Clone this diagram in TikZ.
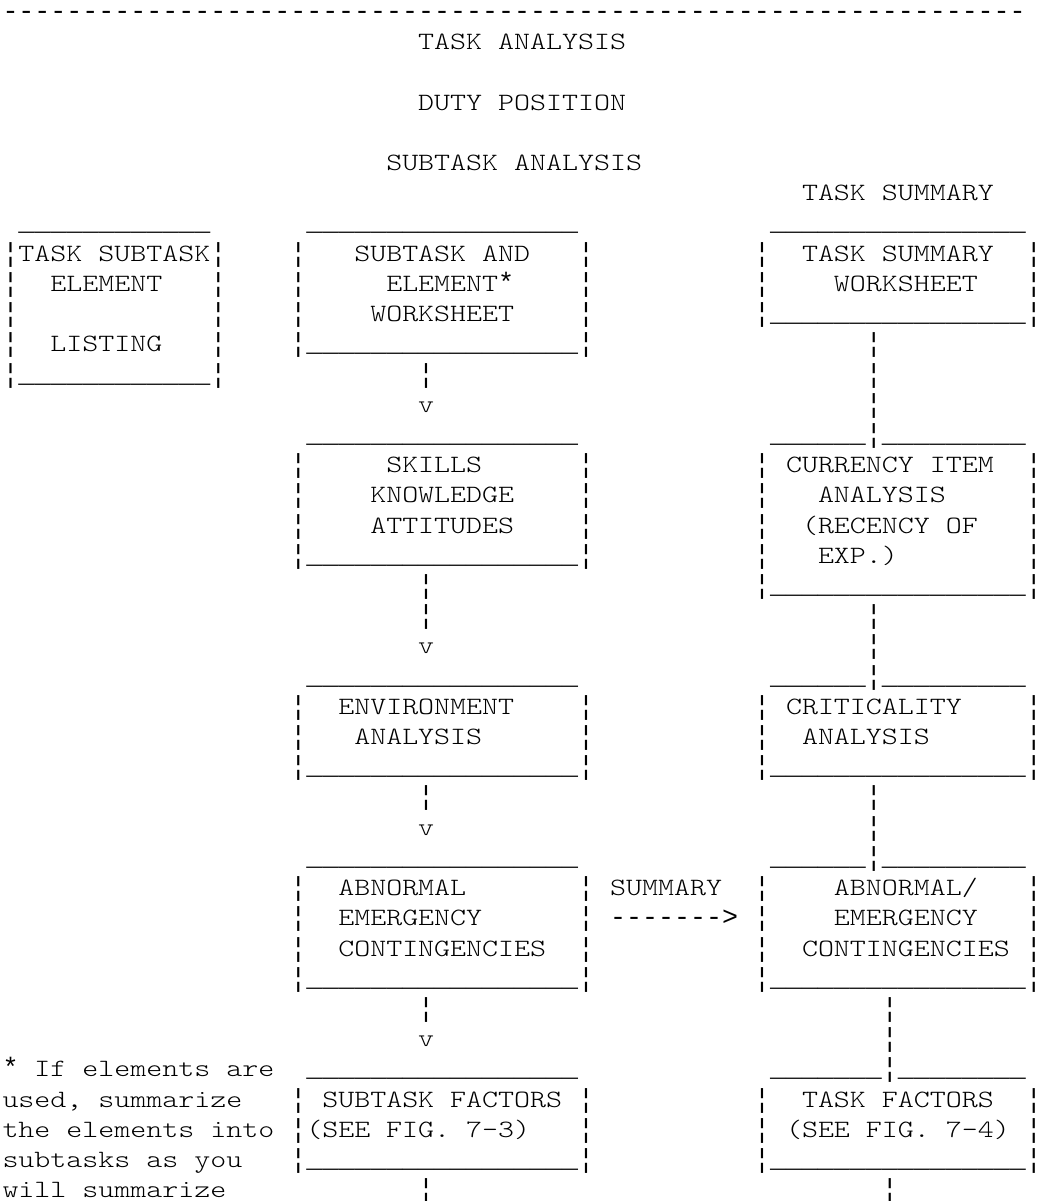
\documentclass[tikz,border=0pt]{standalone}
\usepackage{fontspec}
\setmonofont{Liberation Mono}
\newfontfamily\cour{lmmonolt10-regular.otf}[FakeStretch=1.2232]
\ExplSyntaxOn
\NewDocumentCommand\rep{mm}{\prg_replicate:nn{#1}{#2}}
\ExplSyntaxOff
\newcommand\linefont{\ttfamily\frenchspacing\fontsize{26.646pt}{30.21pt}\selectfont}
\newcommand\astr{{\linefont*}}
\tikzset{
  txt/.style={anchor=base west, inner sep=0pt, outer sep=0pt,
    font=\cour\frenchspacing\fontsize{24.9pt}{30.21pt}\selectfont},
  rulech/.style={txt, font=\linefont}}
% place text at character column #1, text row #2
\newcommand\tx[4]{\node[txt] (#3) at ({2.5pt+15.99pt*(#1)},{-19.5pt-30.21pt*(#2)}) {#4};}
% place a line-drawing character (bar, underscore, dash)
\newcommand\lc[4]{\node[rulech] (#3) at ({2.5pt+15.99pt*(#1)},{-19.5pt-30.21pt*(#2)}) {#4};}
% ascii box: name, left col, right col, top row, bottom row (top line drawn separately)
\newcommand\abox[5]{%
  \pgfmathtruncatemacro\boxw{#3-#2-1}%
  \pgfmathtruncatemacro\boxa{#4+1}%
  \foreach \r in {\boxa,...,#5}{\lc{#2}{\r}{#1-l\r}{¦}\lc{#3}{\r}{#1-r\r}{¦}}%
  \lc{#2+1}{#5}{#1-bot}{\rep{\boxw}{\_}}%
}
\begin{document}
\begin{tikzpicture}
\useasboundingbox (0,0) rectangle (1042pt,-1201pt);
% headings
\lc{0}{0}{rule}{\rep{64}{-}}
\tx{26}{1}{title}{TASK ANALYSIS}
\tx{26}{3}{duty}{DUTY POSITION}
\tx{24}{5}{subana}{SUBTASK ANALYSIS}
\tx{50}{6}{tasksum}{TASK SUMMARY}
% box tops
\lc{1}{7}{A-top}{\rep{12}{\_}}
\lc{19}{7}{B-top}{\rep{17}{\_}}
\lc{48}{7}{C-top}{\rep{16}{\_}}
\lc{19}{14}{D-top}{\rep{17}{\_}}
\lc{48}{14}{E-topl}{\rep{6}{\_}}\lc{54}{14}{E-topj}{¦}\lc{55}{14}{E-topr}{\rep{9}{\_}}
\lc{19}{22}{F-top}{\rep{17}{\_}}
\lc{48}{22}{G-topl}{\rep{6}{\_}}\lc{54}{22}{G-topj}{¦}\lc{55}{22}{G-topr}{\rep{9}{\_}}
\lc{19}{28}{H-top}{\rep{17}{\_}}
\lc{48}{28}{I-topl}{\rep{6}{\_}}\lc{54}{28}{I-topj}{¦}\lc{55}{28}{I-topr}{\rep{9}{\_}}
\lc{19}{35}{J-top}{\rep{17}{\_}}
\lc{48}{35}{K-topl}{\rep{7}{\_}}\lc{55}{35}{K-topj}{¦}\lc{56}{35}{K-topr}{\rep{8}{\_}}
% box sides and bottoms
\abox{A}{0}{13}{7}{12}
\abox{B}{18}{36}{7}{11}
\abox{C}{47}{64}{7}{10}
\abox{D}{18}{36}{14}{18}
\abox{E}{47}{64}{14}{19}
\abox{F}{18}{36}{22}{25}
\abox{G}{47}{64}{22}{25}
\abox{H}{18}{36}{28}{32}
\abox{I}{47}{64}{28}{32}
\abox{J}{18}{36}{35}{38}
\abox{K}{47}{64}{35}{38}
% box texts
\tx{1}{8}{A1}{TASK SUBTASK}
\tx{3}{9}{A2}{ELEMENT}
\tx{3}{11}{A3}{LISTING}
\tx{22}{8}{B1}{SUBTASK AND}
\tx{24}{9}{B2}{ELEMENT\astr}
\tx{23}{10}{B3}{WORKSHEET}
\tx{50}{8}{C1}{TASK SUMMARY}
\tx{52}{9}{C2}{WORKSHEET}
\tx{24}{15}{D1}{SKILLS}
\tx{23}{16}{D2}{KNOWLEDGE}
\tx{23}{17}{D3}{ATTITUDES}
\tx{49}{15}{E1}{CURRENCY ITEM}
\tx{51}{16}{E2}{ANALYSIS}
\tx{50}{17}{E3}{(RECENCY OF}
\tx{51}{18}{E4}{EXP.)}
\tx{21}{23}{F1}{ENVIRONMENT}
\tx{22}{24}{F2}{ANALYSIS}
\tx{49}{23}{G1}{CRITICALITY}
\tx{50}{24}{G2}{ANALYSIS}
\tx{21}{29}{H1}{ABNORMAL}
\tx{21}{30}{H2}{EMERGENCY}
\tx{21}{31}{H3}{CONTINGENCIES}
\tx{52}{29}{I1}{ABNORMAL/}
\tx{52}{30}{I2}{EMERGENCY}
\tx{50}{31}{I3}{CONTINGENCIES}
\tx{20}{36}{J1}{SUBTASK FACTORS}
\tx{19}{37}{J2}{(SEE FIG. 7-3)}
\tx{50}{36}{K1}{TASK FACTORS}
\tx{49}{37}{K2}{(SEE FIG. 7-4)}
% summary arrow
\tx{38}{29}{sumlbl}{SUMMARY}
\lc{38}{30}{sumarrow}{------->}
% left column connectors
\lc{26}{12}{bd1}{¦}\tx{26}{13}{bdv}{v}
\lc{26}{19}{df1}{¦}\lc{26}{20}{df2}{¦}\tx{26}{21}{dfv}{v}
\lc{26}{26}{fh1}{¦}\tx{26}{27}{fhv}{v}
\lc{26}{33}{hj1}{¦}\tx{26}{34}{hjv}{v}
\lc{26}{39}{jout}{¦}
% right column connectors
\lc{54}{11}{ce1}{¦}\lc{54}{12}{ce2}{¦}\lc{54}{13}{ce3}{¦}
\lc{54}{20}{eg1}{¦}\lc{54}{21}{eg2}{¦}
\lc{54}{26}{gi1}{¦}\lc{54}{27}{gi2}{¦}
\lc{55}{33}{ik1}{¦}\lc{55}{34}{ik2}{¦}
\lc{55}{39}{kout}{¦}
% footnote
\tx{0}{35}{fn1}{\astr{} If elements are}
\tx{0}{36}{fn2}{used, summarize}
\tx{0}{37}{fn3}{the elements into}
\tx{0}{38}{fn4}{subtasks as you}
\tx{0}{39}{fn5}{will summarize}
\end{tikzpicture}
\end{document}
